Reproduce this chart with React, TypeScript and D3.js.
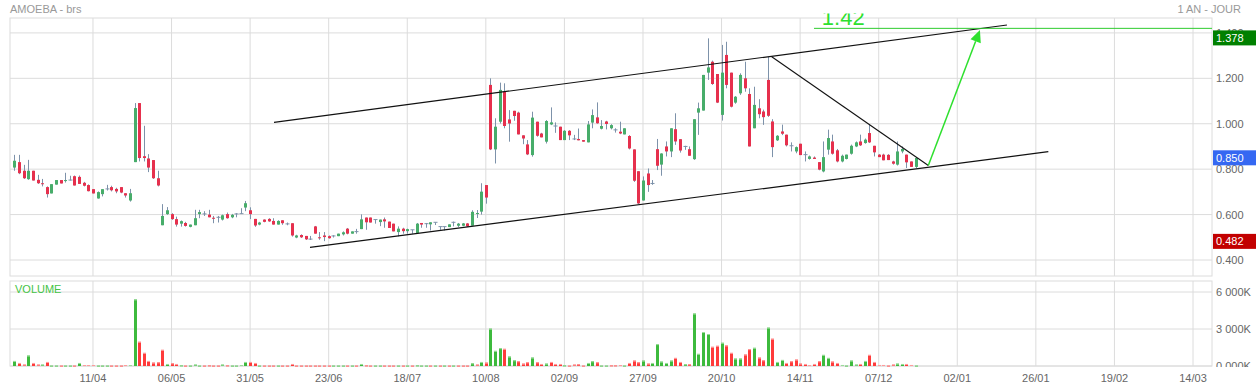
import React from "react";
import * as d3 from "d3";

// ---------- DATA ----------
const OPEN = [
0.807,0.831,0.793,0.756,0.793,0.753,0.738,0.721,0.693,0.732,
0.752,0.750,0.752,0.769,0.766,0.740,0.730,0.712,0.671,0.690,
0.712,0.721,0.713,0.721,0.694,0.662,0.831,1.091,0.857,0.847,
0.840,0.760,0.553,0.602,0.602,0.580,0.560,0.563,0.546,0.553,
0.602,0.603,0.600,0.586,0.588,0.578,0.602,0.588,0.603,0.604,
0.631,0.619,0.581,0.556,0.578,0.581,0.572,0.556,0.575,0.559,
0.562,0.499,0.510,0.506,0.491,0.548,0.500,0.508,0.505,0.506,
0.505,0.513,0.538,0.516,0.525,0.536,0.587,0.587,0.578,0.567,
0.579,0.569,0.560,0.523,0.538,0.527,0.533,0.519,0.563,0.560,
0.557,0.566,0.547,0.547,0.545,0.566,0.551,0.551,0.561,0.551,
0.605,0.613,0.730,1.171,0.887,1.009,1.141,1.019,1.057,1.049,
0.949,0.909,0.862,1.009,0.957,0.921,0.997,0.990,0.987,0.928,
0.969,0.933,0.933,0.928,0.918,1.005,1.028,0.978,1.010,0.980,
0.973,0.965,0.953,0.946,0.887,0.791,0.662,0.781,0.737,0.888,
0.820,0.900,0.878,0.976,0.932,0.900,0.888,0.844,1.049,1.058,
1.225,1.273,1.219,1.039,1.303,1.225,1.093,1.134,1.200,1.131,
0.980,1.068,1.054,1.193,1.010,0.927,0.966,0.952,0.903,0.878,
0.912,0.864,0.845,0.851,0.831,0.790,0.886,0.922,0.883,0.834,
0.845,0.868,0.900,0.922,0.915,0.959,0.903,0.864,0.864,0.863,
0.834,0.820,0.878,0.864,0.834,0.810];

const HIGH = [
0.863,0.863,0.819,0.841,0.793,0.775,0.757,0.724,0.734,0.752,
0.752,0.784,0.771,0.772,0.772,0.744,0.733,0.712,0.702,0.712,
0.731,0.727,0.718,0.721,0.694,0.713,1.091,1.091,0.991,0.866,
0.840,0.793,0.646,0.633,0.606,0.591,0.574,0.568,0.556,0.621,
0.621,0.615,0.621,0.594,0.594,0.600,0.609,0.603,0.606,0.628,
0.660,0.632,0.581,0.568,0.579,0.584,0.584,0.575,0.575,0.565,
0.562,0.511,0.513,0.506,0.506,0.550,0.523,0.523,0.508,0.509,
0.516,0.526,0.541,0.526,0.537,0.601,0.587,0.587,0.578,0.578,
0.587,0.569,0.560,0.548,0.542,0.538,0.533,0.563,0.563,0.563,
0.566,0.566,0.547,0.547,0.557,0.569,0.563,0.563,0.563,0.619,
0.620,0.738,0.730,1.200,1.024,1.181,1.178,1.060,1.057,1.053,
0.949,0.928,1.053,1.009,0.960,1.016,1.072,1.006,0.987,0.972,
0.972,0.951,0.979,0.928,1.012,1.063,1.094,1.016,1.013,0.998,
0.980,1.009,0.980,0.950,0.887,0.791,0.768,0.803,0.752,0.933,
0.870,0.922,0.980,1.046,0.932,0.903,0.900,1.020,1.093,1.215,
1.376,1.278,1.219,1.347,1.361,1.225,1.122,1.222,1.273,1.156,
1.163,1.108,1.062,1.295,1.020,0.950,0.996,0.952,0.918,0.900,
0.912,0.878,0.860,0.856,0.831,0.922,0.974,0.952,0.889,0.864,
0.864,0.908,0.922,0.952,0.935,0.996,0.903,0.866,0.868,0.866,
0.837,0.922,0.900,0.864,0.834,0.853];

const LOW = [
0.793,0.778,0.757,0.753,0.750,0.735,0.724,0.675,0.693,0.732,
0.737,0.741,0.750,0.728,0.735,0.724,0.702,0.693,0.670,0.680,
0.706,0.702,0.694,0.694,0.675,0.657,0.831,0.834,0.834,0.787,
0.757,0.724,0.553,0.599,0.577,0.547,0.547,0.547,0.544,0.553,
0.584,0.594,0.588,0.562,0.565,0.574,0.582,0.584,0.588,0.603,
0.615,0.580,0.546,0.553,0.566,0.568,0.556,0.556,0.555,0.553,
0.503,0.496,0.497,0.488,0.488,0.516,0.489,0.483,0.494,0.499,
0.505,0.508,0.513,0.516,0.516,0.536,0.533,0.565,0.560,0.549,
0.542,0.541,0.526,0.504,0.516,0.516,0.516,0.519,0.542,0.542,
0.530,0.554,0.533,0.530,0.545,0.548,0.545,0.549,0.545,0.551,
0.585,0.600,0.648,0.884,0.825,1.001,0.980,0.921,1.013,0.953,
0.910,0.862,0.855,0.943,0.940,0.913,0.994,0.960,0.928,0.928,
0.928,0.928,0.927,0.921,0.918,0.980,1.000,0.975,0.975,0.975,
0.961,0.954,0.953,0.887,0.744,0.646,0.662,0.700,0.731,0.796,
0.771,0.856,0.853,0.907,0.873,0.885,0.859,0.841,0.951,1.058,
1.193,1.171,1.091,1.014,1.156,1.072,1.088,1.127,1.141,0.900,
0.980,1.024,0.995,1.030,0.853,0.924,0.950,0.900,0.878,0.870,
0.862,0.834,0.842,0.845,0.795,0.786,0.864,0.864,0.830,0.830,
0.843,0.864,0.897,0.902,0.912,0.915,0.856,0.853,0.839,0.840,
0.820,0.816,0.870,0.805,0.810,0.805];

const CLOSE = [
0.837,0.782,0.760,0.793,0.750,0.738,0.735,0.690,0.734,0.752,
0.737,0.752,0.752,0.728,0.735,0.727,0.703,0.693,0.699,0.712,
0.713,0.707,0.702,0.697,0.684,0.694,1.069,0.849,0.849,0.807,
0.760,0.728,0.594,0.619,0.580,0.556,0.571,0.550,0.556,0.584,
0.611,0.603,0.588,0.584,0.587,0.597,0.584,0.599,0.603,0.604,
0.650,0.602,0.552,0.565,0.568,0.570,0.556,0.572,0.562,0.559,
0.508,0.508,0.500,0.491,0.492,0.516,0.498,0.501,0.496,0.506,
0.516,0.522,0.516,0.526,0.525,0.579,0.566,0.565,0.578,0.578,
0.570,0.541,0.526,0.538,0.527,0.536,0.533,0.560,0.556,0.560,
0.566,0.566,0.547,0.547,0.557,0.566,0.560,0.561,0.548,0.612,
0.607,0.701,0.675,0.887,0.987,1.149,0.990,1.001,1.034,0.953,
0.935,0.865,1.027,0.947,0.940,1.012,1.006,0.990,0.928,0.969,
0.949,0.933,0.927,0.921,0.997,1.038,1.002,0.990,0.999,0.994,
0.973,0.957,0.980,0.891,0.749,0.649,0.750,0.730,0.737,0.815,
0.869,0.878,0.980,0.922,0.882,0.900,0.859,1.020,1.068,1.215,
1.248,1.175,1.093,1.225,1.171,1.075,1.119,1.215,1.156,0.900,
1.083,1.042,1.029,1.035,0.897,0.947,0.956,0.905,0.903,0.897,
0.862,0.864,0.856,0.845,0.798,0.853,0.937,0.868,0.834,0.859,
0.864,0.903,0.918,0.905,0.930,0.918,0.874,0.853,0.839,0.840,
0.824,0.878,0.889,0.830,0.810,0.849];

// volume in thousands
const VOLUME = [
409,245,109,845,245,109,109,327,27,27,
27,27,27,27,245,80,80,80,27,27,
27,27,27,27,80,80,5400,1963,1064,409,
273,300,1309,164,218,164,55,27,27,109,
27,27,55,27,27,109,55,27,27,80,
327,327,245,27,27,27,27,27,27,27,
164,27,27,27,27,27,27,27,27,27,
27,27,27,27,27,164,55,27,27,27,
27,27,27,27,27,27,27,55,27,27,
27,27,27,27,27,27,27,27,27,218,
109,327,273,3027,1227,1445,1390,764,464,382,
191,300,682,300,164,191,327,164,164,55,
27,109,136,27,245,382,300,27,27,55,
55,80,27,245,436,300,436,191,245,1773,
355,245,436,655,327,136,136,4254,982,2754,
2591,1554,1636,1882,1663,1064,600,600,927,1364,
1473,682,464,3109,2209,327,491,245,382,518,
191,164,80,164,382,900,655,355,245,82,
27,436,109,164,409,900,327,82,82,27,
109,191,164,164,82,27];

// u = close above previous close (green volume), d = below (red volume)
const VOLUME_DIR = [
"uddudduduu","duududdduu","udddduuddd","dddudduduu","udddduduuu",
"uddudddudd","dddddddddu","uudududduu","dddududuuu","dudududddu",
"duduuuduud","dduddudddu","dddduuduud","dduddduduu","uuudduduuu",
"uddudduudd","udduduuddd","ddddduuddu","uuududdddd","duuddu"].join("");

const DATE_LABELS = ["11/04","06/05","31/05","23/06","18/07","10/08","02/09","27/09","20/10","14/11","07/12","02/01","26/01","19/02","14/03"];
const DATE_INDEX = [17,34,51,68,85,102,119,136,153,170,187,204,221,238,255];
const PRICE_TICKS = [0.4,0.6,0.8,1.0,1.2,1.4];
const VOL_TICKS = [0,3000,6000];
const VOL_TICK_LABELS = ["0.000K","3 000K","6 000K"];

// drawn studies, in (bar index, price) space
const UPPER_CHANNEL: [number, number][] = [[56.17,1.0063],[214.75,1.4348]];
const LOWER_CHANNEL: [number, number][] = [[63.95,0.4559],[223.7,0.8769]];
const BREAK_LINE: [number, number][] = [[163.85,1.2952],[197.73,0.8161]];
const TARGET_ARROW: [number, number][] = [[197.73,0.8161],[208.9,1.4128]];
const TARGET_LEVEL = 1.42;
const TARGET_START = 173;
const TARGET_TEXT = "1.42";
const TARGET_TEXT_AT = 174.7;
const PRICE_TAGS = [
  { v: 1.378, label: "1.378", color: "#008000" },
  { v: 0.850, label: "0.850", color: "#3568f2" },
  { v: 0.482, label: "0.482", color: "#c20000" },
];

// ---------- LAYOUT ----------
const W = 1256, H = 387;
const L = 10, R = 1212;
const MT = 18, MB = 276;
const VT = 281, VB = 366;
const GRID = "#dcdcdc";
const FONT = "'Liberation Sans', Arial, sans-serif";

const x = d3.scaleLinear().domain([0, 255]).range([14.4, 1193]);
const y = d3.scaleLinear().domain([0.4, 1.4]).range([260, 32.9]);
const yv = d3.scaleLinear().domain([0, 6000]).range([VB, 292]);

const UP = "#47ad6a", DOWN = "#e6304d", WICK = "#7d92aa";
const VUP = "#3dba3d", VDOWN = "#ff3b3b";

export default function App() {
  const line = d3.line<[number, number]>().x(d => x(d[0])).y(d => y(d[1]));

  const a0 = TARGET_ARROW[0], a1 = TARGET_ARROW[1];
  const ax0 = x(a0[0]), ay0 = y(a0[1]), ax1 = x(a1[0]), ay1 = y(a1[1]);
  const ang = Math.atan2(ay1 - ay0, ax1 - ax0);
  const hl = 12, hw = 5.5;
  const bx = ax1 - hl * Math.cos(ang), by = ay1 - hl * Math.sin(ang);
  const px = -Math.sin(ang), py = Math.cos(ang);
  const head = `M${ax1},${ay1}L${bx + px * hw},${by + py * hw}L${bx - px * hw},${by - py * hw}Z`;

  return (
    <svg width={W} height={H} style={{ position: "absolute", left: 0, top: 0, fontFamily: FONT }}>
      <defs>
        <clipPath id="mainClip"><rect x={L} y={13.5} width={R - L} height={MB - 13.5} /></clipPath>
        <clipPath id="volLabClip"><rect x={R} y={VT} width={W - R} height={VB + 1 - VT} /></clipPath>
      </defs>
      <rect x={0} y={0} width={W} height={H} fill="#fff" />
      <text x={10} y={13} fontSize={11} fill="#999">AMOEBA - brs</text>
      <text x={1241} y={13} fontSize={11} fill="#999" textAnchor="end">1 AN - JOUR</text>

      {/* grids */}
      {DATE_INDEX.map((d, k) => (
        <g key={"vg" + k}>
          <line x1={x(d)} x2={x(d)} y1={MT} y2={MB} stroke={GRID} />
          <line x1={x(d)} x2={x(d)} y1={VT} y2={VB} stroke={GRID} />
        </g>
      ))}
      {PRICE_TICKS.map((t, k) => (
        <line key={"hg" + k} x1={L} x2={R} y1={y(t)} y2={y(t)} stroke={GRID} />
      ))}
      {VOL_TICKS.map((t, k) => (
        <line key={"vhg" + k} x1={L} x2={R} y1={yv(t)} y2={yv(t)} stroke={GRID} />
      ))}
      <rect x={L} y={MT} width={R - L} height={MB - MT} fill="none" stroke={GRID} />
      <rect x={L} y={VT} width={R - L} height={VB - VT} fill="none" stroke={GRID} />

      {/* candles */}
      <g clipPath="url(#mainClip)">
        {CLOSE.map((c, i) => {
          const o = OPEN[i];
          const cx = Math.round(x(i)) + 0.5;
          const top = y(Math.max(o, c)), bot = y(Math.min(o, c));
          const doji = Math.abs(o - c) < 0.002;
          const col = doji ? WICK : c > o ? UP : DOWN;
          return (
            <g key={"c" + i}>
              <line x1={cx} x2={cx} y1={y(HIGH[i])} y2={y(LOW[i])} stroke={WICK} strokeWidth={1} />
              {doji ? (
                <line x1={cx - 2} x2={cx + 2} y1={top} y2={top} stroke={WICK} strokeWidth={1} />
              ) : (
                <rect x={cx - 1.5} y={top} width={3} height={Math.max(1, bot - top)} fill={col} />
              )}
            </g>
          );
        })}

        {/* studies */}
        <path d={line(UPPER_CHANNEL) || ""} stroke="#111" strokeWidth={1.2} fill="none" />
        <path d={line(LOWER_CHANNEL) || ""} stroke="#111" strokeWidth={1.2} fill="none" />
        <path d={line(BREAK_LINE) || ""} stroke="#111" strokeWidth={1.1} fill="none" />
        <line x1={x(TARGET_START)} x2={R} y1={y(TARGET_LEVEL)} y2={y(TARGET_LEVEL)} stroke="#2ecc2e" strokeWidth={1} />
        <text x={x(TARGET_TEXT_AT)} y={y(TARGET_LEVEL) - 3} fontSize={22} fill="#2ee02e">{TARGET_TEXT}</text>
        <line x1={ax0} y1={ay0} x2={bx} y2={by} stroke="#2ee02e" strokeWidth={1.5} />
        <path d={head} fill="#2ee02e" />
      </g>

      {/* price axis */}
      {PRICE_TICKS.map((t, k) => (
        <text key={"yl" + k} x={1216} y={y(t) + 4} fontSize={11} fill="#666">{t.toFixed(3)}</text>
      ))}
      {PRICE_TAGS.map((p, k) => (
        <g key={"tag" + k}>
          <rect x={1213} y={y(p.v) - 7.5} width={W - 1213} height={15} fill={p.color} />
          <text x={1216} y={y(p.v) + 4} fontSize={11} fill="#fff">{p.label}</text>
        </g>
      ))}

      {/* volume */}
      {VOLUME.map((v, i) => {
        const cx = Math.round(x(i)) + 0.5;
        const up = VOLUME_DIR[i] === "u";
        const top = yv(v);
        return (
          <g key={"v" + i}>
            <rect x={cx - 1.5} y={top} width={3} height={Math.max(1, VB - top)} fill={up ? VUP : VDOWN} />
            <rect x={cx - 1.5} y={top} width={3} height={1} fill={up ? "#9ddc9d" : "#ff9e9e"} />
          </g>
        );
      })}
      <text x={15} y={293} fontSize={11} fill="#44c444">VOLUME</text>
      <g clipPath="url(#volLabClip)">
        {VOL_TICKS.map((t, k) => (
          <text key={"vl" + k} x={1216} y={yv(t) + 4} fontSize={11} fill="#666">{VOL_TICK_LABELS[k]}</text>
        ))}
      </g>

      {/* date axis */}
      {DATE_INDEX.map((d, k) => (
        <text key={"xl" + k} x={x(d)} y={382} fontSize={11} fill="#666" textAnchor="middle">{DATE_LABELS[k]}</text>
      ))}
    </svg>
  );
}
